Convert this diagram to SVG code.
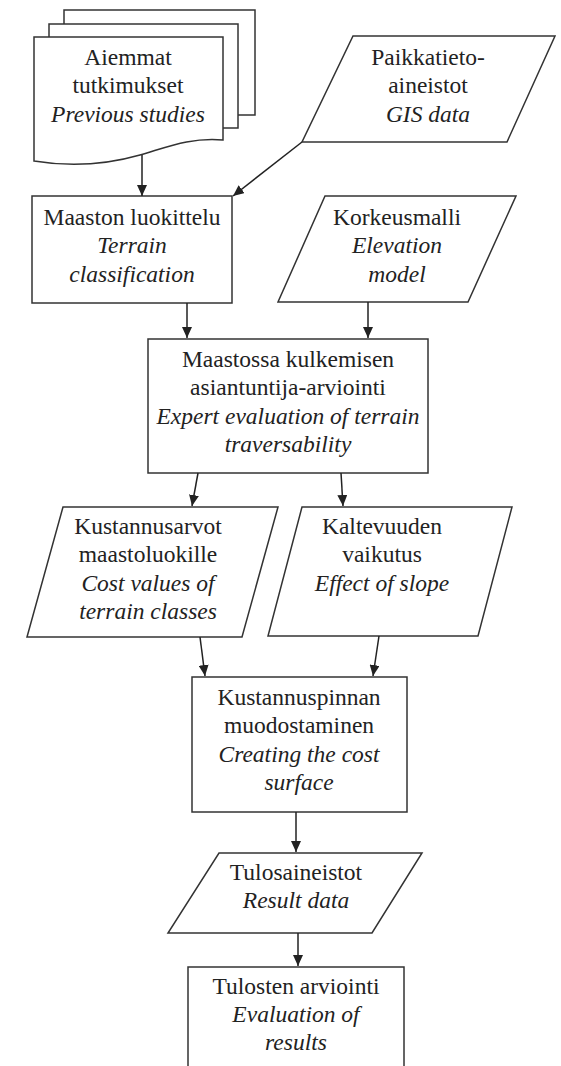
<svg xmlns="http://www.w3.org/2000/svg" width="561" height="1066" viewBox="0 0 561 1066">
<style>
.s{fill:#fff;stroke:#333;stroke-width:1.5}
.t{font-family:"Liberation Serif",serif;font-size:23.5px;fill:#222;text-anchor:middle}
.i{font-style:italic}
.c{stroke:#222;stroke-width:1.5;fill:none;marker-end:url(#a)}
</style>
<defs>
<marker id="a" markerUnits="userSpaceOnUse" markerWidth="12" markerHeight="10" refX="11" refY="5" orient="auto"><path d="M0,0 L11,5 L0,10 z" fill="#222"/></marker>
</defs>
<rect width="561" height="1066" fill="#fff"/>
<g id="n1">
<rect class="s" x="64" y="10" width="191" height="105"/>
<rect class="s" x="49" y="24" width="189" height="104"/>
<path class="s" d="M34,37 H223 V140 C190,137 165,148 140,155 C105,165 70,167 34,161 Z"/>
<text class="t" x="128" y="65">Aiemmat</text>
<text class="t" x="128" y="93">tutkimukset</text>
<text class="t i" x="128" y="122">Previous studies</text>
</g>
<g id="n2">
<path class="s" d="M353,36 H555 L507,142 H302 Z"/>
<text class="t" x="428" y="65">Paikkatieto-</text>
<text class="t" x="428" y="93">aineistot</text>
<text class="t i" x="428" y="122">GIS data</text>
</g>
<g id="n3">
<rect class="s" x="32" y="196" width="200" height="107"/>
<text class="t" x="132" y="225">Maaston luokittelu</text>
<text class="t i" x="132" y="253">Terrain</text>
<text class="t i" x="132" y="282">classification</text>
</g>
<g id="n4">
<path class="s" d="M325,196 H516 L468,302 H278 Z"/>
<text class="t" x="397" y="225">Korkeusmalli</text>
<text class="t i" x="397" y="253">Elevation</text>
<text class="t i" x="397" y="282">model</text>
</g>
<g id="n5">
<rect class="s" x="148" y="339" width="280" height="134"/>
<text class="t" x="288" y="367">Maastossa kulkemisen</text>
<text class="t" x="288" y="395">asiantuntija-arviointi</text>
<text class="t i" x="288" y="424">Expert evaluation of terrain</text>
<text class="t i" x="288" y="452">traversability</text>
</g>
<g id="n6">
<path class="s" d="M63,507 H278 L242,637 H27 Z"/>
<text class="t" x="148" y="534">Kustannusarvot</text>
<text class="t" x="148" y="562">maastoluokille</text>
<text class="t i" x="148" y="591">Cost values of</text>
<text class="t i" x="148" y="619">terrain classes</text>
</g>
<g id="n7">
<path class="s" d="M302,507 H512 L478,636 H268 Z"/>
<text class="t" x="382" y="534">Kaltevuuden</text>
<text class="t" x="382" y="562">vaikutus</text>
<text class="t i" x="382" y="591">Effect of slope</text>
</g>
<g id="n8">
<rect class="s" x="192" y="677" width="215" height="135"/>
<text class="t" x="299" y="705">Kustannuspinnan</text>
<text class="t" x="299" y="733">muodostaminen</text>
<text class="t i" x="299" y="762">Creating the cost</text>
<text class="t i" x="299" y="790">surface</text>
</g>
<g id="n9">
<path class="s" d="M219,853 H422 L372,933 H168 Z"/>
<text class="t" x="296" y="880">Tulosaineistot</text>
<text class="t i" x="296" y="908">Result data</text>
</g>
<g id="n10">
<rect class="s" x="188" y="967" width="216" height="120"/>
<text class="t" x="296" y="994">Tulosten arviointi</text>
<text class="t i" x="296" y="1022">Evaluation of</text>
<text class="t i" x="296" y="1050">results</text>
</g>
<g id="connectors">
<line class="c" x1="142" y1="155" x2="142" y2="196"/>
<line class="c" x1="302" y1="142" x2="233" y2="196"/>
<line class="c" x1="187" y1="303" x2="187" y2="338"/>
<line class="c" x1="368" y1="302" x2="368" y2="338"/>
<line class="c" x1="198" y1="473" x2="192" y2="506"/>
<line class="c" x1="341" y1="473" x2="343" y2="506"/>
<line class="c" x1="200" y1="637" x2="205" y2="676"/>
<line class="c" x1="379" y1="636" x2="373" y2="676"/>
<line class="c" x1="296" y1="812" x2="296" y2="852"/>
<line class="c" x1="298" y1="933" x2="298" y2="966"/>
</g>
</svg>
